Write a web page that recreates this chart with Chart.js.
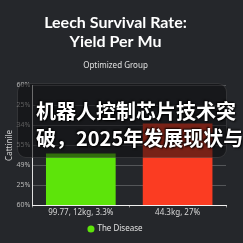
<!DOCTYPE html>
<html>
<head>
<meta charset="utf-8">
<script src="https://cdn.jsdelivr.net/npm/chart.js@4"></script>
<style>
  html, body { margin: 0; padding: 0; background: #25272b; }
  #wrap { position: relative; width: 243px; height: 243px; overflow: hidden; }
  #overlay {
    position: absolute; left: 17px; top: 83px; width: 210px; height: 75px;
    background: rgba(12, 13, 15, 0.55);
    border: 1px solid rgba(255, 255, 255, 0.12);
    border-radius: 9px; box-sizing: border-box;
  }
  #overlayText {
    position: absolute; left: 36px; top: 97px; width: 300px;
    font-family: "Noto Sans CJK SC", sans-serif; font-weight: 700;
    font-size: 20px; line-height: 27px; color: #fff; white-space: nowrap;
    text-shadow: 1px 1px 2px #000, -1px -1px 2px #000;
  }
</style>
</head>
<body>
<div id="wrap">
  <canvas id="chart" width="243" height="243"></canvas>
  <div id="overlay"></div>
  <div id="overlayText">机器人控制芯片技术突<br>破，2025年发展现状与</div>
</div>
<script>
// ===== DATA =====
const categories = ["99.77, 12kg, 3.3%", "44.3kg, 27%"];
const values = [2.6, 4.1];
const barColors = ["#5de40a", "#fb3c22"];
// tick labels from top to bottom, as printed on the axis
const tickLabels = ["60%", "25%", "34%", "55%", "49%", "25%", "60%"];
const seriesName = "The Disease";

const ctx = document.getElementById("chart").getContext("2d");
const chart = new Chart(ctx, {
    type: "bar",
    data: {
        labels: categories,
        datasets: [{
            label: seriesName,
            data: values,
            backgroundColor: barColors,
            barPercentage: 0.72,
            categoryPercentage: 1
        }]
    },
    options: {
        responsive: false,
        animation: false,
        layout: { padding: { left: 5, right: 17, top: 4, bottom: 0 } },
        scales: {
            y: {
                min: 0,
                max: 6,
                ticks: {
                    stepSize: 1,
                    color: "#b8b8b8",
                    font: { family: "Noto Sans", size: 7 },
                    padding: 2,
                    callback: (v) => tickLabels[6 - v]
                },
                grid: { color: "rgba(255,255,255,0.22)", drawTicks: false },
                border: { color: "#e0e0e0", width: 1 },
                title: {
                    display: true,
                    text: "Cattinile",
                    color: "#d0d0d0",
                    font: { family: "Noto Sans", size: 8 },
                    padding: 0
                }
            },
            x: {
                ticks: {
                    color: "#d8d8d8",
                    font: { family: "Noto Sans", size: 8 },
                    padding: 1
                },
                grid: { drawOnChartArea: false, tickLength: 2, color: "#999" },
                border: { color: "#f0f0f0", width: 1 }
            }
        },
        plugins: {
            title: {
                display: true,
                text: ["Leech Survival Rate:", "Yield Per Mu"],
                color: "#ffffff",
                font: { family: "Lato", size: 16, weight: "bold", lineHeight: 1.15 },
                padding: { top: 10, bottom: 8 }
            },
            subtitle: {
                display: true,
                text: "Optimized Group",
                color: "#e0e0e0",
                font: { family: "Noto Sans", size: 8 },
                padding: { top: 2, bottom: 15 }
            },
            legend: {
                position: "bottom",
                labels: {
                    color: "#e0e0e0",
                    font: { family: "Noto Sans", size: 8 },
                    usePointStyle: true,
                    pointStyle: "circle",
                    boxWidth: 5,
                    boxHeight: 5,
                    padding: 6,
                    generateLabels: () => [{
                        text: seriesName,
                        fillStyle: barColors[0],
                        strokeStyle: barColors[0],
                        fontColor: "#e0e0e0",
                        pointStyle: "circle",
                        lineWidth: 0
                    }]
                }
            },
            tooltip: { enabled: false }
        }
    }
});
</script>
</body>
</html>
